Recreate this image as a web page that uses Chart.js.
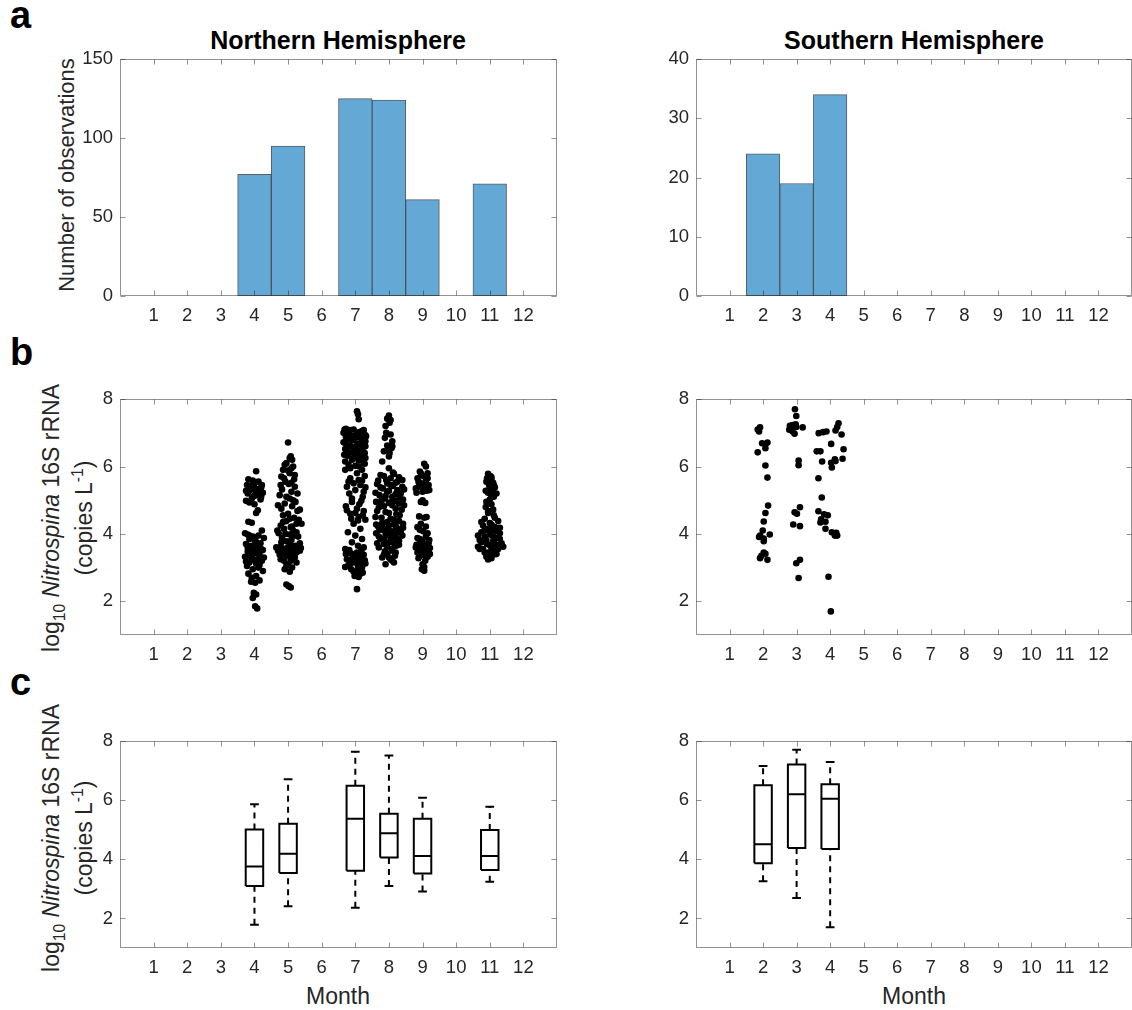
<!DOCTYPE html>
<html>
<head>
<meta charset="utf-8">
<script src="https://cdn.jsdelivr.net/npm/chart.js@4.4.1/dist/chart.umd.min.js"></script>
<style>
  html, body { margin: 0; padding: 0; width: 1132px; height: 1010px; overflow: hidden; background: #fff; }
  body { position: relative; font-family: 'Liberation Sans', Arial, sans-serif; color: #262626; }
  canvas { position: absolute; }
  .tag { position: absolute; font-weight: bold; font-size: 38px; line-height: 1; color: #000; }
  .title { position: absolute; font-weight: bold; font-size: 25px; line-height: 1; color: #000; white-space: nowrap; transform: translateX(-50%); }
  .ylab { position: absolute; font-size: 22px; line-height: 33px; text-align: center; white-space: nowrap; transform: translate(-50%, -50%) rotate(-90deg); }
  .ylab.log { font-size: 23px; }
  .xlab { position: absolute; font-size: 23px; line-height: 1; white-space: nowrap; transform: translateX(-50%); }
  sub, sup { font-size: 68%; line-height: 0; }
</style>
</head>
<body>

<div class="tag" style="left:10px; top:-4px;">a</div>
<div class="tag" style="left:10px; top:333px;">b</div>
<div class="tag" style="left:10px; top:663px;">c</div>

<div class="title" style="left:338px; top:28px;">Northern Hemisphere</div>
<div class="title" style="left:914px; top:28px;">Southern Hemisphere</div>

<div class="ylab" style="left:66px; top:175px;">Number of observations</div>
<div class="ylab log" style="left:68px; top:518px;"><div>log<sub>10</sub> <i>Nitrospina</i> 16S rRNA</div><div>(copies L<sup>-1</sup>)</div></div>
<div class="ylab log" style="left:68px; top:838px;"><div>log<sub>10</sub> <i>Nitrospina</i> 16S rRNA</div><div>(copies L<sup>-1</sup>)</div></div>

<div class="xlab" style="left:338px; top:985px;">Month</div>
<div class="xlab" style="left:914px; top:985px;">Month</div>

<canvas id="histNorth"></canvas>
<canvas id="histSouth"></canvas>
<canvas id="dotsNorth"></canvas>
<canvas id="dotsSouth"></canvas>
<canvas id="boxNorth"></canvas>
<canvas id="boxSouth"></canvas>

<script>
// ---- data ----
const months = [1, 2, 3, 4, 5, 6, 7, 8, 9, 10, 11, 12];
const countTicksNorth = [0, 50, 100, 150];
const countTicksSouth = [0, 10, 20, 30, 40];
const logTicks = [2, 4, 6, 8];

// observations per month
const nhCounts = [0, 0, 0, 77, 95, 0, 125, 124, 61, 0, 71, 0];
const shCounts = [0, 24, 19, 34, 0, 0, 0, 0, 0, 0, 0, 0];

// individual samples: [month jitter, log10 copies per litre]
const nhApr = [[0.05,5.86],[-0.18,5.62],[-0.05,5.58],[0.12,5.55],[-0.22,5.45],[0.2,5.38],[0.02,5.35],[-0.12,5.3],[0.15,5.28],[0.25,5.22],[-0.2,5.2],[0.08,5.15],[-0.08,5.05],[0.18,5.02],
  [-0.25,4.98],[-0.15,4.93],[0.0,4.88],[0.1,4.7],[0.05,4.62],[-0.18,4.36],[-0.08,4.33],[0.22,4.1],[-0.28,4.02],
  [-0.2,3.98],[0.12,3.95],[-0.05,3.92],[0.28,3.88],[-0.15,3.85],[0.02,3.8],
  [0.18,3.72],[-0.25,3.7],[-0.1,3.65],[0.08,3.6],[0.25,3.52],[-0.2,3.48],[0.0,3.42],[0.15,3.38],[-0.28,3.32],[-0.08,3.3],[0.1,3.25],[0.22,3.2],[-0.15,3.15],[0.05,3.12],
  [-0.22,3.05],[0.12,3.0],[-0.05,2.95],[0.25,2.9],[-0.18,2.82],[0.05,2.75],[0.15,2.62],[-0.1,2.58],[0.02,2.55],[-0.02,2.25],[0.05,2.2],[-0.05,2.1],[0.02,1.85],[0.08,1.79],
  [0.0,5.5],[0.22,5.45],[-0.12,5.42],[0.1,5.32],[-0.25,5.28],[0.05,5.25],[-0.02,5.12],[0.2,5.1],[-0.15,3.95],[0.05,3.75],[-0.2,3.6],[0.2,3.55],[-0.05,3.5],[0.1,3.45],
  [-0.15,3.35],[0.28,3.3],[0.0,3.22],[-0.25,3.18],[0.15,3.08],[-0.08,2.7]];
const nhMay = [[0.0,6.71],[0.08,6.3],[0.12,6.2],[-0.05,6.1],[0.15,6.0],[0.1,5.95],[-0.15,5.9],[0.05,5.8],[-0.2,5.7],[0.18,5.62],[-0.08,5.55],[0.02,5.48],[0.2,5.4],[-0.18,5.32],[0.1,5.25],
  [-0.25,5.15],[0.05,5.05],[0.22,4.95],[-0.1,4.9],[0.12,4.82],[-0.2,4.75],[0.28,4.68],[0.0,4.6],[-0.15,4.55],[0.18,4.48],[0.32,4.42],[-0.05,4.38],[0.25,4.3],[-0.22,4.25],[0.08,4.2],
  [-0.12,4.15],[0.15,4.1],[-0.28,4.02],[0.05,3.98],[0.3,3.92],[-0.18,3.88],[0.1,3.82],[-0.05,3.78],[0.35,3.72],[0.22,3.65],[-0.22,3.62],[0.0,3.6],[0.38,3.58],[-0.1,3.56],[0.15,3.55],
  [-0.3,3.5],[0.05,3.48],[0.25,3.45],[-0.15,3.42],[0.12,3.38],[-0.05,3.35],[0.2,3.3],[-0.22,3.25],[0.08,3.2],[0.0,3.1],[-0.1,2.95],[0.05,2.88],[-0.05,2.5],[0.02,2.45],[0.08,2.41],
  [0.05,6.25],[-0.1,6.05],[0.0,5.88],[0.2,5.75],[-0.12,5.65],[0.1,5.52],[-0.22,5.45],[0.28,5.2],[-0.05,5.1],[0.15,5.0],[-0.3,4.85],[0.35,4.72],[0.05,4.45],[-0.15,4.35],[0.4,4.3],
  [0.12,4.22],[-0.32,4.1],[0.25,4.05],[-0.08,4.0],[0.18,3.95],[-0.2,3.75],[0.05,3.7],[0.28,3.62],[-0.35,3.6],[0.12,3.58],[-0.15,3.52],[0.35,3.5],[0.0,3.4],[-0.25,3.38],[0.18,3.36],
  [0.08,3.28],[-0.12,3.2],[0.25,3.15],[-0.05,3.05],[0.12,3.0]];
const nhJul = [[0.05,7.64],[0.08,7.55],[0.1,7.4],[-0.28,7.12],[-0.15,7.08],[0.2,7.05],[-0.35,7.0],[0.05,6.98],[0.28,6.95],[-0.08,6.9],[0.15,6.85],[-0.22,6.8],[0.3,6.75],[-0.3,6.7],[0.1,6.65],[-0.12,6.6],[0.22,6.55],[0.0,6.5],
  [-0.25,6.45],[0.18,6.42],[-0.33,6.35],[0.08,6.3],[0.3,6.25],[-0.1,6.2],[0.25,6.12],[-0.2,6.05],[0.12,6.0],[-0.3,5.9],[0.05,5.8],[0.28,5.72],[-0.15,5.65],[0.2,5.58],[-0.05,5.5],[0.15,5.45],[-0.25,5.4],[0.3,5.38],
  [0.0,5.3],[-0.18,5.2],[0.22,5.1],[-0.1,4.95],[0.12,4.88],[-0.28,4.82],[0.05,4.75],[0.25,4.68],[-0.15,4.6],[0.1,4.5],[0.3,4.42],[-0.05,4.3],[0.15,4.15],[-0.22,4.05],[0.0,3.95],[0.2,3.85],[-0.1,3.75],[0.08,3.65],
  [-0.3,3.55],[0.18,3.5],[-0.12,3.42],[0.25,3.38],[0.02,3.32],[-0.25,3.25],[0.12,3.2],[-0.05,3.15],[0.3,3.12],[-0.2,3.08],[0.08,3.05],[0.2,3.0],[-0.12,2.95],[0.05,2.9],[0.15,2.82],[-0.02,2.75],[0.1,2.72],[0.05,2.36],
  [-0.32,7.1],[-0.05,7.1],[0.25,7.08],[0.12,7.02],[-0.2,6.98],[0.32,6.9],[-0.28,6.88],[0.0,6.85],[0.2,6.8],[-0.1,6.78],[-0.35,6.72],[0.25,6.7],[0.05,6.68],[-0.2,6.62],[0.3,6.6],
  [-0.02,6.55],[-0.3,6.52],[0.15,6.48],[-0.12,6.42],[0.28,6.4],[0.0,6.38],[-0.22,6.32],[0.2,6.3],[-0.05,6.25],[0.1,6.18],[-0.3,6.15],[0.28,6.08],[0.0,6.02],[-0.15,5.95],[0.2,5.9],
  [0.1,5.6],[-0.2,5.55],[0.25,5.25],[-0.1,5.05],[0.18,4.98],[-0.25,4.7],[0.0,4.62],[0.22,4.55],[-0.12,4.45],[0.08,4.4],[0.25,3.6],[-0.18,3.52],[0.05,3.45],[-0.28,3.4],[0.15,3.35],
  [-0.08,3.28],[0.28,3.22],[0.0,3.18],[-0.15,3.12],[0.18,3.1],[-0.3,3.02],[0.1,2.98],[-0.05,2.88],[0.22,2.85],[0.05,2.78]];
const nhAug = [[0.0,7.51],[-0.05,7.42],[0.02,7.3],[-0.1,7.2],[0.05,6.95],[-0.12,6.85],[0.1,6.75],[-0.05,6.62],[0.08,6.55],[-0.15,6.45],[0.02,6.4],[-0.2,6.15],[0.0,5.95],[0.12,5.82],[-0.25,5.75],[0.3,5.68],[-0.08,5.6],
  [0.2,5.52],[-0.35,5.48],[0.05,5.45],[0.4,5.4],[-0.18,5.35],[0.25,5.3],[-0.05,5.25],[0.35,5.2],[-0.28,5.15],[0.1,5.1],[-0.12,5.05],[0.42,5.02],[0.18,4.98],[-0.38,4.95],[0.0,4.92],[0.3,4.9],[-0.22,4.88],
  [0.1,4.85],[-0.3,4.78],[0.38,4.72],[-0.1,4.65],[0.22,4.58],[-0.4,4.5],[0.05,4.45],[0.3,4.38],[-0.2,4.32],[0.15,4.28],[-0.32,4.22],[0.42,4.18],[-0.05,4.15],[0.25,4.12],[-0.15,4.1],[0.08,4.08],[0.35,4.06],
  [-0.38,4.02],[0.2,3.98],[-0.1,3.95],[0.12,3.9],[-0.25,3.85],[0.3,3.8],[0.0,3.75],[-0.15,3.7],[0.22,3.65],[-0.3,3.6],[0.1,3.5],[-0.05,3.42],[0.18,3.35],[-0.2,3.3],[0.05,3.25],[0.15,3.15],[-0.1,3.1],
  [0.05,7.38],[-0.08,7.0],[0.1,6.6],[-0.02,6.5],[0.0,6.3],[0.15,5.78],[-0.15,5.72],[0.05,5.65],[0.4,5.6],[-0.32,5.58],[0.25,5.55],[-0.05,5.5],[0.12,5.42],[-0.25,5.38],[0.45,5.32],
  [0.0,5.28],[-0.4,5.22],[0.2,5.18],[-0.1,5.12],[0.32,5.08],[-0.22,5.0],[0.08,4.95],[0.45,4.85],[-0.15,4.82],[0.2,4.75],[-0.35,4.68],[0.0,4.62],[0.32,4.55],[-0.22,4.48],[0.15,4.42],
  [-0.05,4.35],[0.42,4.3],[-0.38,4.28],[0.0,4.25],[0.22,4.2],[-0.18,4.18],[0.3,4.14],[-0.28,4.12],[0.12,4.02],[-0.05,4.0],[0.4,3.95],[-0.3,3.92],[0.05,3.88],[0.25,3.85],[-0.15,3.8],
  [0.15,3.72],[-0.35,3.72],[0.3,3.68],[-0.05,3.62],[0.08,3.55],[-0.12,3.48],[0.2,3.45],[-0.15,3.38],[0.0,3.3],[0.1,3.2]];
const nhSep = [[0.05,6.08],[0.1,6.0],[-0.08,5.85],[0.15,5.8],[0.02,5.72],[-0.15,5.65],[0.1,5.58],[-0.05,5.5],[0.18,5.45],[-0.12,5.4],[0.05,5.35],[0.12,5.28],[-0.18,5.22],[0.0,5.0],[0.08,4.92],
  [-0.1,4.52],[0.05,4.48],[-0.05,4.3],[0.1,4.22],[-0.08,4.12],[0.02,4.08],[0.15,4.02],[-0.15,3.88],[0.2,3.82],[0.0,3.78],[-0.1,3.7],[0.12,3.65],[-0.2,3.6],[0.05,3.55],[-0.05,3.52],
  [0.18,3.48],[-0.15,3.45],[0.08,3.42],[0.22,3.4],[-0.08,3.35],[0.1,3.3],[0.0,3.1],[0.05,3.02],[-0.02,2.95],[0.05,2.91],
  [-0.05,5.8],[0.15,5.65],[-0.12,5.55],[0.08,5.48],[-0.2,5.35],[0.2,5.3],[0.0,5.25],[-0.05,4.95],[0.12,4.5],[-0.15,4.2],[0.1,3.92],[-0.08,3.85],[0.18,3.72],[-0.18,3.68],[0.05,3.62],
  [0.22,3.58],[-0.1,3.48],[0.0,3.38],[0.15,3.32],[-0.12,3.28],[0.08,3.2]];
const nhNov = [[-0.05,5.78],[0.02,5.72],[-0.08,5.65],[0.05,5.6],[0.1,5.52],[-0.02,5.45],[0.15,5.38],[0.08,5.3],[-0.05,5.22],[0.12,5.1],[0.0,5.02],[-0.1,4.95],[0.05,4.88],[-0.12,4.8],[0.1,4.72],
  [-0.05,4.62],[0.12,4.55],[-0.15,4.45],[0.25,4.38],[0.0,4.32],[-0.2,4.25],[0.15,4.2],[-0.05,4.15],[0.08,4.1],[-0.25,4.05],[0.3,4.02],[0.0,3.98],[-0.15,3.92],[0.2,3.88],[-0.3,3.82],
  [0.1,3.78],[0.35,3.72],[-0.08,3.7],[0.22,3.66],[-0.35,3.62],[0.05,3.6],[0.4,3.62],[-0.2,3.55],[0.15,3.5],[-0.05,3.45],[0.1,3.38],[-0.1,3.32],[0.05,3.28],[-0.05,3.24],
  [0.05,5.68],[-0.1,5.55],[0.12,5.45],[0.0,5.35],[-0.12,5.28],[0.2,5.2],[0.05,5.12],[-0.05,4.68],[0.15,4.48],[-0.25,4.35],[0.05,4.28],[0.3,4.18],[-0.15,4.1],[0.2,4.08],[-0.35,3.95],
  [0.1,3.92],[0.3,3.85],[-0.1,3.82],[-0.25,3.75],[0.15,3.7],[0.0,3.66],[-0.3,3.55],[0.25,3.55],[0.05,3.5],[-0.15,3.45],[0.2,3.4],[0.0,3.3]];
const shFeb = [[-0.16,7.10],[-0.12,7.04],[-0.09,7.16],[-0.16,6.42],[-0.03,6.69],[0.07,6.66],[0.13,6.71],[0.07,6.54],[0.07,6.03],[0.13,5.67],[0.15,4.84],[0.07,4.62],
  [0.02,4.37],[-0.01,4.10],[-0.09,3.95],[-0.12,3.91],[0.02,3.86],[0.2,3.98],[0.02,3.78],[0.02,3.45],[0.07,3.41],[-0.09,3.28],[0.13,3.23],[-0.05,3.35]];
const shMar = [[-0.05,7.70],[-0.01,7.50],[-0.2,7.21],[-0.12,7.23],[-0.03,7.25],[-0.22,7.09],[-0.12,7.04],[-0.06,6.97],[-0.17,7.15],[0.18,7.16],[-0.01,7.17],
  [0.06,6.18],[0.06,6.04],[0.1,4.79],[-0.06,4.64],[0.01,4.60],[-0.1,4.28],[0.1,4.23],[-0.01,3.13],[0.1,3.23],[0.06,2.69]];
const shApr = [[0.25,7.28],[0.21,7.17],[0.16,7.07],[0.34,6.95],[-0.34,6.99],[-0.21,7.02],[-0.11,7.04],[0.03,6.67],[0.4,6.51],[-0.4,6.45],[-0.29,6.45],[-0.24,6.15],
  [0.37,6.23],[0.14,6.21],[0.03,6.11],[0.05,5.97],[0.16,6.16],[-0.35,5.65],[-0.25,5.08],[-0.35,4.67],[-0.18,4.58],[-0.07,4.55],[-0.27,4.43],[-0.14,4.36],
  [-0.29,4.34],[-0.14,4.15],[0.05,4.05],[0.18,4.03],[0.14,3.95],[0.21,3.95],[-0.05,2.73],[0.02,1.70]];

// box plot summaries (whisker low, Q1, median, Q3, whisker high)
const nhBoxMonths = [4, 5, 7, 8, 9, 11];
const nhLow  = [1.79, 2.41, 2.36, 3.10, 2.91, 3.24];
const nhQ1   = [3.10, 3.54, 3.61, 4.06, 3.52, 3.64];
const nhMed  = [3.76, 4.19, 5.37, 4.88, 4.11, 4.11];
const nhQ3   = [5.01, 5.20, 6.49, 5.54, 5.37, 4.99];
const nhHigh = [5.86, 6.71, 7.64, 7.51, 6.08, 5.78];
const shBoxMonths = [2, 3, 4];
const shLow  = [3.26, 2.69, 1.70];
const shQ1   = [3.87, 4.38, 4.35];
const shMed  = [4.51, 6.20, 6.05];
const shQ3   = [6.51, 7.21, 6.54];
const shHigh = [7.16, 7.71, 7.29];

// ---- styling ----
const axisColor = 'rgba(38,38,38,0.5)';
const textColor = '#262626';
const barFill = 'rgb(100,169,214)';
const barEdge = 'rgba(30,40,52,0.75)';
const tickLen = 5;
const boxHalf = 0.26;
const capHalf = 0.13;

Chart.defaults.font.family = "'Liberation Sans', Arial, sans-serif";
Chart.defaults.font.size = 18.5;
Chart.defaults.color = textColor;

// chart frames in page pixels
const colL = { l: 120, r: 557 };
const colR = { l: 696, r: 1132 };
const rowA = { t: 53, b: 296 };
const rowB = { t: 393, b: 635 };
const rowC = { t: 735, b: 948 };
const PAD = { left: 100, top: 12, right: 12, bottom: 45 };

function placeCanvas(id, col, row) {
  const c = document.getElementById(id);
  c.width = col.r - col.l + PAD.left + PAD.right;
  c.height = row.b - row.t + PAD.top + PAD.bottom;
  c.style.left = (col.l - PAD.left) + 'px';
  c.style.top = (row.t - PAD.top) + 'px';
  return c;
}

// MATLAB-style box with inward ticks on all four sides
const frameTicks = {
  id: 'frameTicks',
  afterDatasetsDraw(chart) {
    const { ctx, chartArea: a, scales } = chart;
    const L = Math.round(a.left) + 0.5, R = Math.round(a.right) - 0.5;
    const T = Math.round(a.top) + 0.5, B = Math.round(a.bottom) - 0.5;
    ctx.save();
    ctx.strokeStyle = axisColor;
    ctx.lineWidth = 1;
    ctx.beginPath();
    scales.x.ticks.forEach(t => {
      const px = Math.round(scales.x.getPixelForValue(t.value)) + 0.5;
      ctx.moveTo(px, B); ctx.lineTo(px, B - tickLen);
      ctx.moveTo(px, T); ctx.lineTo(px, T + tickLen);
    });
    scales.y.ticks.forEach(t => {
      const py = Math.round(scales.y.getPixelForValue(t.value)) + 0.5;
      ctx.moveTo(L, py); ctx.lineTo(L + tickLen, py);
      ctx.moveTo(R, py); ctx.lineTo(R - tickLen, py);
    });
    ctx.rect(L, T, R - L, B - T);
    ctx.stroke();
    ctx.restore();
  }
};

function axes(yMin, yMax, yTicks) {
  return {
    x: {
      type: 'linear', min: 0, max: 13, offset: false,
      grid: { display: false, drawTicks: false }, border: { display: false },
      ticks: { padding: 9, maxRotation: 0, autoSkip: false },
      afterBuildTicks: s => { s.ticks = months.map(v => ({ value: v })); },
      afterFit: s => { s.height = PAD.bottom; }
    },
    y: {
      type: 'linear', min: yMin, max: yMax,
      grid: { display: false, drawTicks: false }, border: { display: false },
      ticks: { padding: 7 },
      afterBuildTicks: s => { s.ticks = yTicks.map(v => ({ value: v })); },
      afterFit: s => { s.width = PAD.left; }
    }
  };
}

function baseOptions(yMin, yMax, yTicks) {
  return {
    responsive: false,
    devicePixelRatio: 1,
    animation: false,
    events: [],
    layout: { padding: { left: 0, top: PAD.top, right: PAD.right, bottom: 0 } },
    plugins: { legend: { display: false }, tooltip: { enabled: false } },
    scales: axes(yMin, yMax, yTicks)
  };
}

function histogram(id, col, counts, yMax, yTicks) {
  const canvas = placeCanvas(id, col, rowA);
  return new Chart(canvas, {
    type: 'bar',
    data: {
      datasets: [{
        data: months.map((m, i) => ({ x: m, y: counts[i] })),
        backgroundColor: barFill,
        borderColor: barEdge,
        borderWidth: 1,
        borderSkipped: false,
        barPercentage: 1,
        categoryPercentage: 1
      }]
    },
    options: baseOptions(0, yMax, yTicks),
    plugins: [frameTicks]
  });
}

function jittered(groups) {
  const pts = [];
  groups.forEach(([month, samples]) => {
    samples.forEach(([dx, v]) => pts.push({ x: month + dx, y: v }));
  });
  return pts;
}

function dotPanel(id, col, groups) {
  const canvas = placeCanvas(id, col, rowB);
  return new Chart(canvas, {
    type: 'scatter',
    data: {
      datasets: [{
        data: jittered(groups),
        pointRadius: 3.3,
        pointBorderWidth: 0,
        backgroundColor: '#000'
      }]
    },
    options: baseOptions(1, 8, logTicks),
    plugins: [frameTicks]
  });
}

// boxes, medians and caps as one solid path; whiskers as one dashed path
function boxPaths(ms, lo, q1, med, q3, hi) {
  const gap = { x: null, y: null };
  const solid = [], dashed = [];
  ms.forEach((m, i) => {
    solid.push({ x: m - boxHalf, y: q1[i] }, { x: m + boxHalf, y: q1[i] }, { x: m + boxHalf, y: q3[i] },
               { x: m - boxHalf, y: q3[i] }, { x: m - boxHalf, y: q1[i] }, gap);
    solid.push({ x: m - boxHalf, y: med[i] }, { x: m + boxHalf, y: med[i] }, gap);
    solid.push({ x: m - capHalf, y: hi[i] }, { x: m + capHalf, y: hi[i] }, gap);
    solid.push({ x: m - capHalf, y: lo[i] }, { x: m + capHalf, y: lo[i] }, gap);
    dashed.push({ x: m, y: q3[i] }, { x: m, y: hi[i] }, gap, { x: m, y: lo[i] }, { x: m, y: q1[i] }, gap);
  });
  return { solid, dashed };
}

function boxPanel(id, col, ms, lo, q1, med, q3, hi) {
  const canvas = placeCanvas(id, col, rowC);
  const p = boxPaths(ms, lo, q1, med, q3, hi);
  const line = { showLine: true, pointRadius: 0, borderColor: '#000', borderWidth: 2, fill: false, spanGaps: false, borderJoinStyle: 'miter' };
  return new Chart(canvas, {
    type: 'scatter',
    data: {
      datasets: [
        Object.assign({ data: p.dashed, borderDash: [6, 5] }, line),
        Object.assign({ data: p.solid }, line)
      ]
    },
    options: baseOptions(1, 8, logTicks),
    plugins: [frameTicks]
  });
}

histogram('histNorth', colL, nhCounts, 150, countTicksNorth);
histogram('histSouth', colR, shCounts, 40, countTicksSouth);

dotPanel('dotsNorth', colL, [[4, nhApr], [5, nhMay], [7, nhJul], [8, nhAug], [9, nhSep], [11, nhNov]]);
dotPanel('dotsSouth', colR, [[2, shFeb], [3, shMar], [4, shApr]]);

boxPanel('boxNorth', colL, nhBoxMonths, nhLow, nhQ1, nhMed, nhQ3, nhHigh);
boxPanel('boxSouth', colR, shBoxMonths, shLow, shQ1, shMed, shQ3, shHigh);
</script>
</body>
</html>
